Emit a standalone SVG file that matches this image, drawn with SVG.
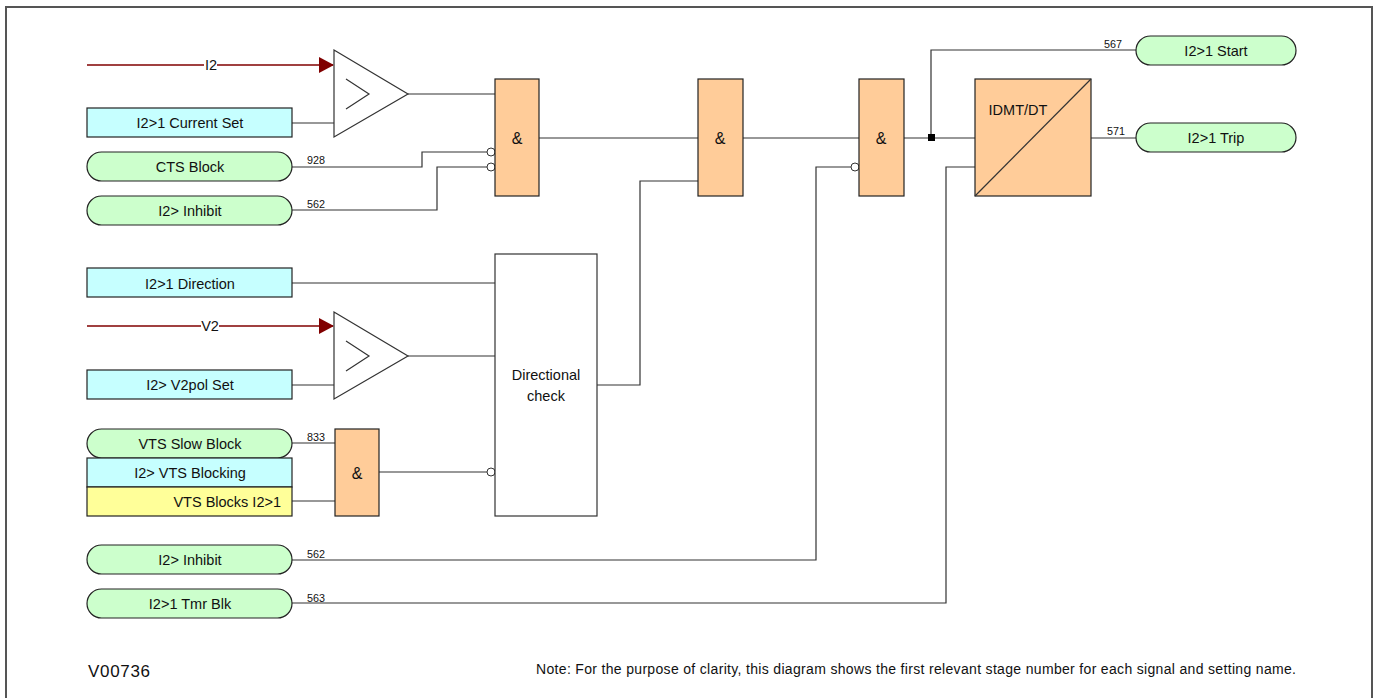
<svg xmlns="http://www.w3.org/2000/svg" width="1379" height="698" viewBox="0 0 1379 698">
<style>
text{font-family:"Liberation Sans",Arial,sans-serif;fill:#111;font-size:14.5px;text-anchor:middle}
.n{font-size:11px}
.amp{font-size:16px}
.s{fill:none;stroke:#333;stroke-width:1.2}
.b{fill:#fff;stroke:#333;stroke-width:1}
.and{fill:#fc9;stroke:#222;stroke-width:1.2}
.cy{fill:#c6ffff;stroke:#222;stroke-width:1.2}
.yl{fill:#ff9;stroke:#222;stroke-width:1.2}
.gr{fill:#cfc;stroke:#222;stroke-width:1.2}
.w{fill:#fff;stroke:#333;stroke-width:1.2}
</style>
<defs>
<marker id="a" markerWidth="15" markerHeight="16" refX="14" refY="8" orient="auto" markerUnits="userSpaceOnUse"><path d="M0 0L15 8L0 16z" fill="#800000"/></marker>
</defs>
<rect id="frame" x="6" y="7" width="1366" height="700" fill="#fff" stroke="#555" stroke-width="2"/>
<g id="connectors">
<path class="s" d="M292 123H334M408 94H495M292 167H422V152H490M292 210H437V167H490M539 138H698M743 138H859M904 138H975M931 138V50H1136M1091 138H1136M292 283H495M408 356H495M292 385H334M597 385H640V181H698M292 443H335M292 501H335M379 472H490M292 560H816V167H854M292 603H946V167H975"/>
<path d="M87 65H333" fill="none" stroke="#800000" stroke-width="1.5" marker-end="url(#a)"/>
<path d="M87 326H333" fill="none" stroke="#800000" stroke-width="1.5" marker-end="url(#a)"/>
<rect x="928" y="134" width="7" height="7" fill="#000"/>
<circle class="b" cx="491" cy="152" r="4"/>
<circle class="b" cx="491" cy="167" r="4"/>
<circle class="b" cx="855" cy="167" r="4"/>
<circle class="b" cx="491" cy="472" r="4"/>
<g class="n-labels">
<rect x="204" y="58" width="13" height="14" fill="#fff"/><text x="211" y="70">I2</text>
<rect x="201" y="319" width="18" height="14" fill="#fff"/><text x="210" y="331">V2</text>
<text class="n" x="316" y="164" textLength="18" lengthAdjust="spacingAndGlyphs">928</text>
<text class="n" x="316" y="208" textLength="18" lengthAdjust="spacingAndGlyphs">562</text>
<text class="n" x="316" y="441" textLength="18" lengthAdjust="spacingAndGlyphs">833</text>
<text class="n" x="316" y="558" textLength="18" lengthAdjust="spacingAndGlyphs">562</text>
<text class="n" x="316" y="602" textLength="18" lengthAdjust="spacingAndGlyphs">563</text>
<text class="n" x="1113" y="48" textLength="18" lengthAdjust="spacingAndGlyphs">567</text>
<text class="n" x="1116" y="135" textLength="18" lengthAdjust="spacingAndGlyphs">571</text>
</g>
</g>
<g id="i2-comparator"><path class="w" d="M334 50L408 94L334 137Z"/><path class="s" d="M346 79L369 94L346 109"/></g>
<g id="v2-comparator"><path class="w" d="M334 312L408 356L334 399Z"/><path class="s" d="M346 341L369 356L346 371"/></g>
<g id="current-set"><rect class="cy" x="87" y="108" width="205" height="29"/><text x="190" y="128">I2&gt;1 Current Set</text></g>
<g id="cts-block"><rect class="gr" x="87" y="152" width="205" height="29" rx="14.5"/><text x="190" y="172">CTS Block</text></g>
<g id="inhibit-1"><rect class="gr" x="87" y="196" width="205" height="29" rx="14.5"/><text x="190" y="216">I2&gt; Inhibit</text></g>
<g id="direction"><rect class="cy" x="87" y="268" width="205" height="29"/><text x="190" y="289">I2&gt;1 Direction</text></g>
<g id="v2pol-set"><rect class="cy" x="87" y="370" width="205" height="29"/><text x="190" y="390">I2&gt; V2pol Set</text></g>
<g id="vts-slow"><rect class="gr" x="87" y="429" width="205" height="29" rx="14.5"/><text x="190" y="449">VTS Slow Block</text></g>
<g id="vts-blocking"><rect class="cy" x="87" y="458" width="205" height="29"/><text x="190" y="478">I2&gt; VTS Blocking</text></g>
<g id="vts-blocks"><rect class="yl" x="87" y="487" width="205" height="29"/><text x="281" y="507" style="text-anchor:end">VTS Blocks I2&gt;1</text></g>
<g id="inhibit-2"><rect class="gr" x="87" y="545" width="205" height="29" rx="14.5"/><text x="190" y="565">I2&gt; Inhibit</text></g>
<g id="tmr-blk"><rect class="gr" x="87" y="589" width="205" height="29" rx="14.5"/><text x="190" y="609">I2&gt;1 Tmr Blk</text></g>
<g id="and-1"><rect class="and" x="495" y="79" width="44" height="117"/><text class="amp" x="517" y="144">&amp;</text></g>
<g id="and-2"><rect class="and" x="698" y="79" width="45" height="117"/><text class="amp" x="720" y="144">&amp;</text></g>
<g id="and-3"><rect class="and" x="859" y="79" width="45" height="117"/><text class="amp" x="881" y="144">&amp;</text></g>
<g id="and-4"><rect class="and" x="335" y="429" width="44" height="87"/><text class="amp" x="357" y="479">&amp;</text></g>
<g id="directional-check"><rect class="w" x="495" y="254" width="102" height="262"/><text x="546" y="380">Directional</text><text x="546" y="401">check</text></g>
<g id="idmt"><rect class="and" x="975" y="79" width="116" height="117"/><path class="s" d="M975 196L1091 79"/><text x="1018" y="115">IDMT/DT</text></g>
<g id="start"><rect class="gr" x="1136" y="36" width="160" height="29" rx="14.5"/><text x="1216" y="56">I2&gt;1 Start</text></g>
<g id="trip"><rect class="gr" x="1136" y="123" width="160" height="29" rx="14.5"/><text x="1216" y="143">I2&gt;1 Trip</text></g>
<text x="88" y="677" textLength="62" style="text-anchor:start;font-size:17px">V00736</text>
<text x="536" y="674" textLength="760" style="text-anchor:start;font-size:14px">Note: For the purpose of clarity, this diagram shows the first relevant stage number for each signal and setting name.</text>
</svg>
